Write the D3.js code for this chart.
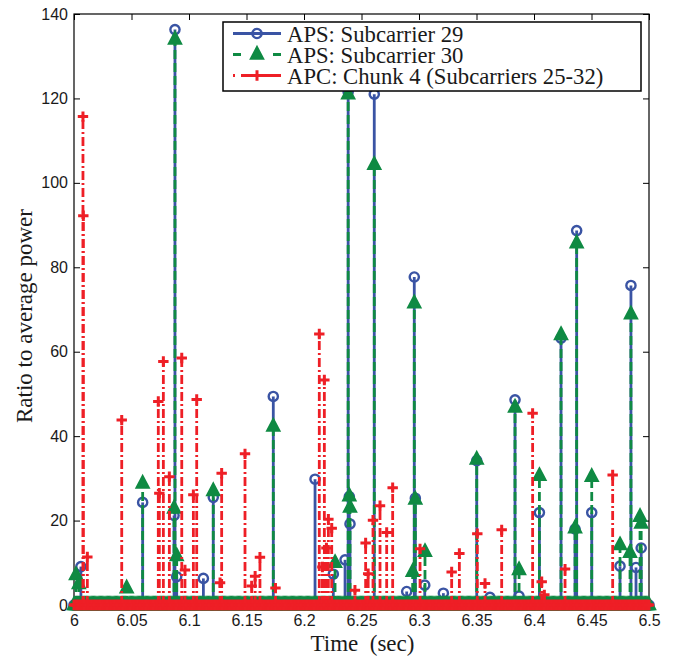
<!DOCTYPE html>
<html>
<head>
<meta charset="utf-8">
<script src="https://cdn.jsdelivr.net/npm/d3@7"></script>
<style>
  html, body { margin: 0; padding: 0; background: #fff; }
  svg { display: block; }
  .tick text { font-family: "Liberation Sans", Arial, sans-serif; font-size: 16px; fill: #1a1a1a; }
</style>
</head>
<body>
<svg id="chart" width="674" height="656"></svg>
<script>
// Peak samples: time (s) and ratio to average power. Every other sample of the
// 1 ms grid between 6 s and 6.5 s is zero.
const aps29Times = [6.0060, 6.0597, 6.0870, 6.0878, 6.0893, 6.1125, 6.1211, 6.1733,
  6.2096, 6.2255, 6.2357, 6.2384, 6.2394, 6.2400, 6.2611, 6.2893, 6.2959, 6.2968,
  6.3050, 6.3212, 6.3502, 6.3617, 6.3835, 6.3870, 6.4047, 6.4235, 6.4357, 6.4371,
  6.4502, 6.4748, 6.4843, 6.4887, 6.4932];
const aps29Values = [9.1, 24.3, 21.2, 136.3, 6.7, 6.3, 25.5, 49.4,
  29.8, 7.3, 10.7, 121.5, 25.7, 19.2, 121.0, 3.2, 77.7, 25.3,
  4.7, 2.8, 34.2, 1.8, 48.6, 2.1, 21.9, 63.2, 18.0, 88.7,
  21.9, 9.2, 75.7, 8.9, 13.5];

const aps30Times = [6.0017, 6.0042, 6.0458, 6.0597, 6.0870, 6.0878, 6.0893, 6.1211,
  6.1733, 6.2270, 6.2384, 6.2394, 6.2400, 6.2611, 6.2945, 6.2959, 6.2968, 6.3052,
  6.3502, 6.3835, 6.3870, 6.4047, 6.4235, 6.4357, 6.4371, 6.4502, 6.4748, 6.4835,
  6.4843, 6.4922, 6.4932];
const aps30Values = [7.1, 5.0, 4.0, 28.8, 22.9, 134.0, 11.6, 27.0,
  42.3, 10.0, 121.0, 25.8, 23.1, 104.3, 7.9, 71.5, 25.0, 12.6,
  34.5, 46.8, 8.3, 30.6, 64.0, 18.2, 85.7, 30.4, 14.2, 12.4,
  68.9, 20.9, 19.3];

const apcTimes = [6.0078, 6.0081, 6.0116, 6.0415, 6.0733, 6.0742, 6.0777, 6.0829,
  6.0937, 6.0965, 6.1038, 6.1067, 6.1270, 6.1284, 6.1487, 6.1545, 6.1575, 6.1617,
  6.1752, 6.2133, 6.2160, 6.2177, 6.2195, 6.2212, 6.2241, 6.2443, 6.2536, 6.2558,
  6.2600, 6.2661, 6.2719, 6.2771, 6.3009, 6.3284, 6.3351, 6.3507, 6.3574, 6.3719,
  6.3988, 6.4067, 6.4090, 6.4270, 6.4684];
const apcValues = [115.7, 92.2, 11.4, 43.8, 48.2, 26.5, 57.7, 30.4,
  58.5, 8.3, 26.1, 48.7, 5.3, 31.2, 35.8, 4.5, 6.8, 11.3,
  4.0, 64.2, 9.0, 53.3, 13.5, 20.3, 18.2, 3.5, 14.7, 7.4,
  20.1, 23.5, 17.2, 27.8, 13.3, 7.8, 12.2, 16.9, 5.1, 17.8,
  45.4, 5.5, 2.4, 8.5, 30.8];

const sampleStart = 6, sampleEnd = 6.5, samplePeriod = 0.001;

const xTicks = [6, 6.05, 6.1, 6.15, 6.2, 6.25, 6.3, 6.35, 6.4, 6.45, 6.5];
const xTickLabels = ["6", "6.05", "6.1", "6.15", "6.2", "6.25", "6.3", "6.35", "6.4", "6.45", "6.5"];
const yTicks = [0, 20, 40, 60, 80, 100, 120, 140];
const seriesNames = ["APS: Subcarrier 29", "APS: Subcarrier 30", "APC: Chunk 4 (Subcarriers 25-32)"];
const xTitle = "Time  (sec)";
const yTitle = "Ratio to average power";

const BLUE = "#3a54a4", GREEN = "#0f8a43", RED = "#ee1f26";

const svg = d3.select("#chart");
const plot = { left: 74, right: 649, top: 14, bottom: 605 };

const x = d3.scaleLinear().domain([sampleStart, sampleEnd]).range([plot.left, plot.right]);
const y = d3.scaleLinear().domain([0, 140]).range([plot.bottom, plot.top]);

// Axes box with inward ticks on all sides
const axes = svg.append("g");
axes.append("g").attr("transform", `translate(0,${plot.bottom})`)
  .call(d3.axisBottom(x).tickValues(xTicks).tickSize(-6).tickPadding(10)
    .tickFormat((d, i) => xTickLabels[i]))
  .call(g => g.select(".domain").remove());
axes.append("g").attr("transform", `translate(${plot.left},0)`)
  .call(d3.axisLeft(y).tickValues(yTicks).tickSize(-6).tickPadding(6))
  .call(g => g.select(".domain").remove());
axes.append("g").attr("transform", `translate(0,${plot.top})`)
  .call(d3.axisTop(x).tickValues(xTicks).tickSize(-6).tickFormat(""))
  .call(g => g.select(".domain").remove());
axes.append("g").attr("transform", `translate(${plot.right},0)`)
  .call(d3.axisRight(y).tickValues(yTicks).tickSize(-6).tickFormat(""))
  .call(g => g.select(".domain").remove());
axes.selectAll(".tick line").attr("stroke", "#000").attr("stroke-width", 1);
axes.append("rect")
  .attr("x", plot.left).attr("y", plot.top)
  .attr("width", plot.right - plot.left).attr("height", plot.bottom - plot.top)
  .attr("fill", "none").attr("stroke", "#000").attr("stroke-width", 1.2);

// Marker shapes
const markers = {
  circle: (g, color) => g.append("circle").attr("r", 4.6)
    .attr("fill", "none").attr("stroke", color).attr("stroke-width", 2.4),
  triangle: (g, color) => g.append("path").attr("d", "M0,-7.5L6.2,4.3L-6.2,4.3Z")
    .attr("fill", color).attr("stroke", color).attr("stroke-width", 2)
    .attr("stroke-linejoin", "miter"),
  plus: (g, color) => g.append("path").attr("d", "M-5.2,0H5.2M0,-5.2V5.2")
    .attr("fill", "none").attr("stroke", color).attr("stroke-width", 3)
};

const zeroGrid = d3.range(0, Math.round((sampleEnd - sampleStart) / samplePeriod) + 1)
  .map(i => sampleStart + i * samplePeriod);

const series = [
  { times: aps29Times, values: aps29Values, color: BLUE, dash: null, marker: "circle" },
  { times: aps30Times, values: aps30Values, color: GREEN, dash: "9,4", marker: "triangle" },
  { times: apcTimes, values: apcValues, color: RED, dash: "9,3,2,3", marker: "plus" }
];

series.forEach(s => {
  const g = svg.append("g");
  const pts = s.times.map((t, i) => ({ t, v: s.values[i] }));
  // stems
  g.append("g").selectAll("line").data(pts).join("line")
    .attr("x1", d => x(d.t)).attr("x2", d => x(d.t))
    .attr("y1", y(0)).attr("y2", d => y(d.v))
    .attr("stroke", s.color).attr("stroke-width", 2.8)
    .attr("stroke-dasharray", s.dash);
  // markers: zero-valued samples along the baseline, then the peaks
  const mg = g.append("g");
  zeroGrid.forEach(t => {
    const m = mg.append("g").attr("transform", `translate(${x(t)},${y(0)})`);
    markers[s.marker](m, s.color);
  });
  pts.forEach(d => {
    const m = mg.append("g").attr("transform", `translate(${x(d.t)},${y(d.v)})`);
    markers[s.marker](m, s.color);
  });
});

// Legend
const legend = svg.append("g");
legend.append("rect").attr("x", 223).attr("y", 22).attr("width", 418).attr("height", 69)
  .attr("fill", "#fff").attr("stroke", "#000").attr("stroke-width", 1.5);
const legendRows = [
  { y: 33.5, dash: null },
  { y: 54.5, dash: "8,32,8" },
  { y: 75.5, dash: "2,6,40" }
];
legendRows.forEach((r, i) => {
  const s = series[i];
  legend.append("line").attr("x1", 233).attr("x2", 281).attr("y1", r.y).attr("y2", r.y)
    .attr("stroke", s.color).attr("stroke-width", 2.8).attr("stroke-dasharray", r.dash);
  const m = legend.append("g").attr("transform", `translate(257,${r.y})`);
  markers[s.marker](m, s.color);
  legend.append("text").attr("x", 287).attr("y", r.y + 8.5)
    .attr("font-family", "'Liberation Serif', 'Times New Roman', serif")
    .attr("font-size", 22.7).attr("fill", "#1a1a1a")
    .text(seriesNames[i]);
});

// Axis titles
svg.append("text")
  .attr("transform", `translate(32,316) rotate(-90)`)
  .attr("text-anchor", "middle")
  .attr("font-family", "'Liberation Serif', 'Times New Roman', serif")
  .attr("font-size", 23).attr("fill", "#1a1a1a")
  .text(yTitle);
svg.append("text")
  .attr("x", (plot.left + plot.right) / 2 + 1).attr("y", 651)
  .attr("text-anchor", "middle")
  .style("white-space", "pre")
  .attr("font-family", "'Liberation Serif', 'Times New Roman', serif")
  .attr("font-size", 23).attr("fill", "#1a1a1a")
  .text(xTitle);
</script>
</body>
</html>
